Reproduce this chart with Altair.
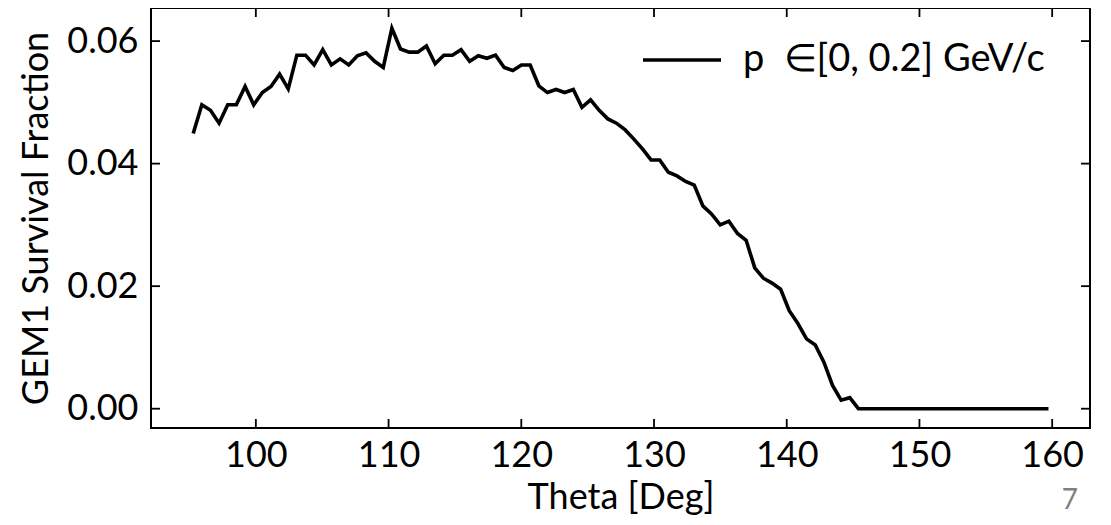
import altair as alt
import pandas as pd

# ---------------- data ----------------
THETA = [
    95.28, 95.93, 96.58, 97.23, 97.88, 98.53, 99.19, 99.84, 100.49, 101.14,
    101.79, 102.44, 103.09, 103.74, 104.39, 105.04, 105.69, 106.35, 107.00, 107.65,
    108.30, 108.95, 109.60, 110.25, 110.90, 111.55, 112.20, 112.85, 113.51, 114.16,
    114.81, 115.46, 116.11, 116.76, 117.41, 118.06, 118.71, 119.36, 120.01, 120.67,
    121.32, 121.97, 122.62, 123.27, 123.92, 124.57, 125.22, 125.87, 126.52, 127.17,
    127.83, 128.48, 129.13, 129.78, 130.43, 131.08, 131.73, 132.38, 133.03, 133.68,
    134.33, 134.99, 135.64, 136.29, 136.94, 137.59, 138.24, 138.89, 139.54, 140.19,
    140.84, 141.49, 142.15, 142.80, 143.45, 144.10, 144.75, 145.40, 146.05, 146.70,
    147.35, 148.00, 148.65, 149.31, 149.96, 150.61, 151.26, 151.91, 152.56, 153.21,
    153.86, 154.51, 155.16, 155.81, 156.47, 157.12, 157.77, 158.42, 159.07, 159.72,
]
FRACTION = [
    0.0449, 0.0496, 0.0487, 0.0466, 0.0496, 0.0496, 0.0526, 0.0496, 0.0516, 0.0526,
    0.0546, 0.0522, 0.0577, 0.0577, 0.0561, 0.0586, 0.0561, 0.0571, 0.0561, 0.0576,
    0.0581, 0.0567, 0.0557, 0.0621, 0.0587, 0.0582, 0.0582, 0.0592, 0.0563, 0.0577,
    0.0577, 0.0586, 0.0567, 0.0576, 0.0572, 0.0577, 0.0557, 0.0552, 0.0561, 0.0561,
    0.0527, 0.0516, 0.0521, 0.0516, 0.0521, 0.0492, 0.0504, 0.0487, 0.0473, 0.0466,
    0.0455, 0.0440, 0.0424, 0.0406, 0.0406, 0.0386, 0.0380, 0.0371, 0.0365, 0.0331,
    0.0318, 0.0300, 0.0306, 0.0286, 0.0275, 0.0230, 0.0213, 0.0205, 0.0195, 0.0160,
    0.0139, 0.0114, 0.0104, 0.0076, 0.0038, 0.0014, 0.0018, 0.0000, 0.0000, 0.0000,
    0.0000, 0.0000, 0.0000, 0.0000, 0.0000, 0.0000, 0.0000, 0.0000, 0.0000, 0.0000,
    0.0000, 0.0000, 0.0000, 0.0000, 0.0000, 0.0000, 0.0000, 0.0000, 0.0000, 0.0000,
]
SERIES = "p \u2005∈[0, 0.2] GeV/c"
X_TICKS = [100, 110, 120, 130, 140, 150, 160]
Y_TICKS = [0.0, 0.02, 0.04, 0.06]
X_DOMAIN = [92.1, 162.85]
Y_DOMAIN = [-0.00315, 0.0654]
X_TITLE = "Theta [Deg]"
Y_TITLE = "GEM1 Survival Fraction"
PAGE = "7"

# ---------------- layout / style ----------------
W, H = 939, 420
TICK = 9
FONT = "Lato"

df = pd.DataFrame({"theta": THETA, "frac": FRACTION, "series": [SERIES] * len(THETA)})
xt = pd.DataFrame({"theta": X_TICKS})
yt = pd.DataFrame({"frac": Y_TICKS})

xscale = alt.Scale(domain=X_DOMAIN, nice=False, zero=False)
yscale = alt.Scale(domain=Y_DOMAIN, nice=False, zero=False)

x_axis = alt.Axis(title=X_TITLE, values=X_TICKS, format="d",
                  labelPadding=10, titlePadding=7)
y_axis = alt.Axis(title=Y_TITLE, values=Y_TICKS, format=".2f",
                  labelPadding=13, titlePadding=11)

line = alt.Chart(df).mark_line(strokeWidth=3.6).encode(
    x=alt.X("theta:Q", scale=xscale, axis=x_axis),
    y=alt.Y("frac:Q", scale=yscale, axis=y_axis),
    color=alt.Color("series:N", scale=alt.Scale(range=["black"]),
                    legend=alt.Legend(title=None, orient="none", legendX=490, legendY=11,
                                      symbolType="stroke", symbolSize=6084,
                                      symbolStrokeWidth=3.6, labelFontSize=38,
                                      labelFont=FONT, labelColor="black",
                                      labelOffset=20, labelLimit=0, padding=0)),
)

rule_style = dict(color="black", strokeWidth=1.8)
bottom_ticks = alt.Chart(xt).mark_rule(**rule_style).encode(
    x=alt.X("theta:Q", scale=xscale, axis=x_axis), y=alt.value(H), y2=alt.value(H - TICK))
top_ticks = alt.Chart(xt).mark_rule(**rule_style).encode(
    x=alt.X("theta:Q", scale=xscale, axis=x_axis), y=alt.value(0), y2=alt.value(TICK))
left_ticks = alt.Chart(yt).mark_rule(**rule_style).encode(
    y=alt.Y("frac:Q", scale=yscale, axis=y_axis), x=alt.value(0), x2=alt.value(TICK))
right_ticks = alt.Chart(yt).mark_rule(**rule_style).encode(
    y=alt.Y("frac:Q", scale=yscale, axis=y_axis), x=alt.value(W), x2=alt.value(W - TICK))

chart = alt.layer(line, bottom_ticks, top_ticks, left_ticks, right_ticks).properties(
    width=W, height=H,
    autosize=alt.AutoSizeParams(type="none"),
    padding={"left": 143, "top": 0, "right": 12, "bottom": 88},
    title=alt.TitleParams(PAGE, orient="bottom", anchor="end", frame="group",
                          fontSize=28, font=FONT, fontWeight="normal",
                          color="#808080", offset=0, dy=-28, dx=-12),
).configure_view(
    stroke="black", strokeWidth=2
).configure_axis(
    labelFont=FONT, titleFont=FONT, labelFontSize=36, titleFontSize=36,
    titleFontWeight="normal", labelColor="black", titleColor="black",
    ticks=False, domain=False, grid=False,
)

chart.save("out.html", embed_options={"renderer": "svg", "actions": False})
